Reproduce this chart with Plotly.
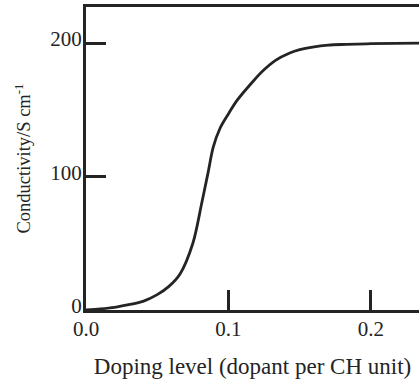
import plotly.graph_objects as go

doping = [0.0, 0.01, 0.02, 0.03, 0.04, 0.05, 0.058, 0.066, 0.075, 0.0812, 0.0855, 0.0893, 0.094, 0.1, 0.106, 0.117, 0.124, 0.133, 0.143, 0.15, 0.159, 0.17, 0.183, 0.2, 0.234]
conductivity = [0.0, 0.8, 2.0, 4.0, 6.5, 11.5, 17.5, 27.0, 50.0, 80.0, 102.0, 122.0, 136.0, 147.0, 157.0, 171.0, 179.0, 187.0, 192.5, 195.0, 197.0, 198.5, 199.0, 199.5, 200.0]

x_ticks = [0.0, 0.1, 0.2]
x_tick_labels = ["0.0", "0.1", "0.2"]
y_ticks = [0, 100, 200]
y_tick_labels = ["0", "100", "200"]

ink = "#242424"
font = "Liberation Serif"

fig = go.Figure()
fig.add_trace(go.Scatter(
    x=doping, y=conductivity, mode="lines",
    line=dict(color=ink, width=2.8, shape="spline", smoothing=0.9),
    showlegend=False, hoverinfo="skip",
))

fig.update_layout(
    width=419, height=381,
    margin=dict(l=86, r=0, t=7, b=71),
    paper_bgcolor="white", plot_bgcolor="white",
    font=dict(family=font, color=ink, size=20),
    xaxis=dict(
        range=[0, 0.2337], tickvals=x_ticks, ticktext=x_tick_labels,
        ticks="inside", ticklen=20, tickwidth=2.5, tickcolor=ink,
        showline=True, linewidth=3, linecolor=ink, mirror=True,
        showgrid=False, zeroline=False,
        tickfont=dict(family=font, size=21, color=ink),
        ticklabelstandoff=-2,
        title=dict(text="Doping level (dopant per CH unit)", standoff=18,
                   font=dict(family=font, size=23, color=ink)),
    ),
    yaxis=dict(
        range=[0, 227], tickvals=y_ticks, ticktext=y_tick_labels,
        ticks="inside", ticklen=20, tickwidth=2.5, tickcolor=ink,
        showline=True, linewidth=3, linecolor=ink, mirror=False,
        showgrid=False, zeroline=False,
        tickfont=dict(family=font, size=21, color=ink),
        ticklabelstandoff=-3, ticklabelshift=-4,
        title=dict(text="Conductivity/S cm<sup>-1</sup>", standoff=15,
                   font=dict(family=font, size=18.5, color=ink)),
    ),
)

fig.write_html("out.html", config={"displayModeBar": False},
               post_script="document.body.style.margin='0';document.body.style.overflow='hidden';")
